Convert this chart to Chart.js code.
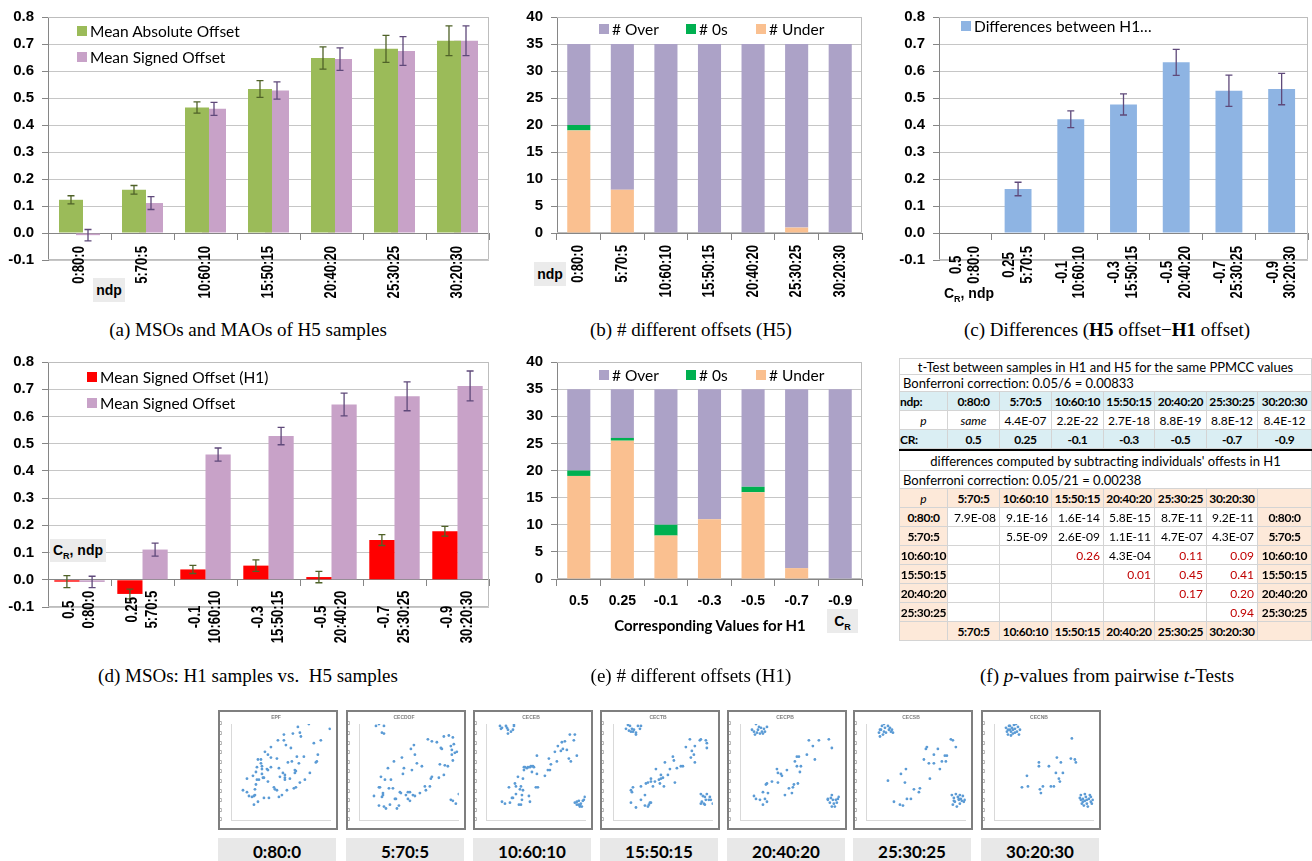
<!DOCTYPE html>
<html>
<head>
<meta charset="utf-8">
<script src="https://cdn.jsdelivr.net/npm/chart.js@4.4.1/dist/chart.umd.min.js"></script>
<style>
body { margin: 0; background: #fff; }
#page { position: relative; width: 1312px; height: 861px; overflow: hidden; font-family: Lato, sans-serif; }
canvas { position: absolute; }
.sq { position: absolute; width: 10px; height: 10px; }
.lg { position: absolute; font-family: Lato; font-size: 15.5px; line-height: 16px; white-space: nowrap; }
.tag { position: absolute; background: #ebebeb; font: bold 14px "Liberation Sans"; text-align: center; white-space: nowrap; }
.cap { position: absolute; font-family: "Liberation Serif"; font-size: 19px; white-space: nowrap; transform: translateX(-50%); }
.box { position: absolute; top: 710px; width: 120px; height: 120px; box-sizing: border-box; border: 2px solid #7f7f7f; background: #fff; }
.lab { position: absolute; top: 838px; height: 26px; width: 118px; background: #e8e8e8; font: bold 17px Lato; text-align: center; line-height: 28px; }
.tc { position: absolute; box-sizing: border-box; border-right: 1px solid #d4d4d4; border-bottom: 1px solid #d4d4d4; font-size: 12px; white-space: nowrap; padding: 0 3px; }
</style>
</head>
<body>
<div id="page">
  <canvas id="cA" width="495" height="310" style="left:0;top:0"></canvas>
  <canvas id="cB" width="370" height="310" style="left:500px;top:0"></canvas>
  <canvas id="cC" width="432" height="310" style="left:880px;top:0"></canvas>
  <canvas id="cD" width="495" height="315" style="left:0;top:345px"></canvas>
  <canvas id="cE" width="370" height="300" style="left:500px;top:345px"></canvas>
</div>
<script>
// categories
const ndpLabels = ['0:80:0', '5:70:5', '10:60:10', '15:50:15', '20:40:20', '25:30:25', '30:20:30'];
const crLabels = ['0.5', '0.25', '-0.1', '-0.3', '-0.5', '-0.7', '-0.9'];

// (a) H5 offsets
const maoH5 = [0.123, 0.160, 0.465, 0.533, 0.648, 0.682, 0.712];
const maoH5Err = [0.015, 0.016, 0.021, 0.031, 0.041, 0.050, 0.055];
const msoH5 = [-0.008, 0.111, 0.460, 0.528, 0.644, 0.674, 0.712];
const msoH5Err = [0.021, 0.024, 0.024, 0.032, 0.042, 0.053, 0.055];

// (b) counts H5
const underH5 = [19, 8, 0, 0, 0, 1, 0];
const zerosH5 = [1, 0, 0, 0, 0, 0, 0];
const overH5 = [15, 27, 35, 35, 35, 34, 35];

// (c) differences H5 - H1
const diffH5H1 = [0, 0.163, 0.421, 0.476, 0.632, 0.527, 0.533];
const diffErr = [0, 0.025, 0.031, 0.039, 0.048, 0.058, 0.058];

// (d) H1 signed offsets
const msoH1 = [-0.007, -0.052, 0.038, 0.052, 0.010, 0.146, 0.178];
const msoH1Err = [0.022, 0.018, 0.015, 0.021, 0.021, 0.020, 0.018];

// (e) counts H1
const underH1 = [19, 25.5, 8, 11, 16, 2, 0];
const zerosH1 = [1, 0.5, 2, 0, 1, 0, 0];
const overH1 = [15, 9, 25, 24, 18, 33, 35];

// (f) p-values
const pSame = ['same', '4.4E-07', '2.2E-22', '2.7E-18', '8.8E-19', '8.8E-12', '8.4E-12'];
const pairRows = ['0:80:0', '5:70:5', '10:60:10', '15:50:15', '20:40:20', '25:30:25'];
const pairCols = ['5:70:5', '10:60:10', '15:50:15', '20:40:20', '25:30:25', '30:20:30'];
const pairP = [
  ['7.9E-08', '9.1E-16', '1.6E-14', '5.8E-15', '8.7E-11', '9.2E-11'],
  ['', '5.5E-09', '2.6E-09', '1.1E-11', '4.7E-07', '4.3E-07'],
  ['', '', '0.26', '4.3E-04', '0.11', '0.09'],
  ['', '', '', '0.01', '0.45', '0.41'],
  ['', '', '', '', '0.17', '0.20'],
  ['', '', '', '', '', '0.94']
];

// sample scatter plots
const scatterTitles = ['EPF', 'CECDOF', 'CECEB', 'CECTB', 'CECPB', 'CECSB', 'CECNB'];
const ptsEPF = [[12,31],[16,43],[16,29],[18,25],[21,24],[23,25],[24,26],[23,16],[24,32],[25,37],[22,46],[25,50],[26,55],[27,63],[26,42],[28,42],[27,19],[30,63],[30,59],[31,56],[31,53],[31,48],[32,44],[33,44],[33,23],[34,71],[36,53],[37,40],[37,52],[37,68],[38,23],[40,76],[40,65],[40,55],[43,34],[44,32],[46,31],[46,64],[47,83],[48,54],[48,24],[49,45],[51,26],[52,49],[53,89],[53,83],[54,42],[54,47],[54,44],[55,78],[56,31],[57,60],[59,43],[60,75],[61,61],[62,90],[63,33],[64,52],[64,49],[65,51],[65,34],[66,66],[67,97],[69,91],[70,87],[69,39],[68,59],[74,42],[73,66],[78,100],[79,49],[83,80],[85,60],[86,61],[87,68],[90,83],[99,95]];
const ptsCECDOF = [[17,98],[20,100],[25,98],[23,91],[25,90],[15,25],[20,34],[21,34],[20,15],[22,45],[23,24],[24,28],[24,26],[25,14],[27,12],[26,42],[29,54],[30,33],[31,16],[32,42],[34,33],[35,61],[36,22],[37,22],[38,12],[40,15],[41,29],[42,28],[43,65],[44,48],[45,54],[47,26],[49,29],[49,22],[51,20],[51,29],[52,74],[53,52],[55,78],[56,68],[54,26],[56,25],[58,59],[61,28],[63,56],[66,35],[67,31],[69,84],[71,35],[72,43],[73,82],[73,45],[78,81],[80,44],[81,58],[82,75],[83,74],[85,47],[85,87],[86,57],[89,56],[90,88],[92,77],[93,73],[93,68],[94,62],[94,86],[95,79],[96,70],[92,21],[94,20],[97,17],[100,27],[98,71]];
const ptsCECEB = [[14,98],[15,95],[20,98],[21,96],[22,94],[22,90],[25,92],[27,94],[28,98],[28,100],[16,96],[16,19],[19,17],[23,34],[24,18],[26,23],[27,23],[29,38],[30,35],[30,27],[32,45],[33,16],[34,32],[35,16],[35,35],[36,26],[36,21],[37,31],[37,43],[38,52],[38,55],[39,55],[41,54],[42,55],[43,25],[44,19],[44,55],[45,56],[46,50],[47,56],[48,55],[50,34],[51,67],[51,48],[52,34],[59,46],[62,52],[63,64],[64,52],[65,58],[69,71],[71,61],[72,77],[75,72],[76,81],[77,74],[79,82],[81,73],[83,64],[85,61],[84,89],[88,83],[89,89],[91,67],[89,18],[91,16],[93,16],[94,14],[95,17],[96,14],[97,20],[98,21],[99,24],[93,20],[94,15],[91,19]];
const ptsCECTB = [[13,95],[15,99],[17,98],[18,92],[19,95],[20,92],[21,94],[23,91],[23,89],[25,98],[27,95],[28,98],[16,93],[18,31],[19,29],[20,34],[18,18],[23,13],[28,21],[28,35],[32,26],[32,15],[33,38],[35,39],[35,14],[36,16],[37,18],[38,18],[38,43],[38,40],[40,35],[42,40],[43,53],[46,42],[47,38],[48,47],[48,43],[50,44],[51,35],[52,60],[55,47],[57,53],[60,66],[61,62],[62,39],[64,54],[68,56],[70,56],[73,76],[77,84],[78,65],[79,72],[81,68],[82,60],[82,77],[87,83],[88,84],[93,83],[94,80],[94,75],[88,27],[88,17],[90,25],[91,17],[92,24],[93,21],[94,27],[96,21],[97,24],[98,21],[100,17],[89,19],[92,16]];
const ptsCECPB = [[12,94],[14,92],[16,100],[17,91],[18,94],[20,90],[21,96],[22,92],[23,90],[24,95],[25,92],[27,97],[15,89],[19,97],[14,25],[16,22],[20,21],[23,16],[23,29],[25,22],[26,37],[27,38],[27,19],[28,28],[32,40],[38,39],[37,53],[38,49],[41,48],[42,46],[45,26],[47,52],[49,33],[52,28],[53,34],[54,37],[55,61],[57,66],[57,56],[58,38],[59,66],[61,56],[60,50],[67,68],[69,83],[73,77],[75,63],[79,83],[89,84],[92,75],[88,22],[88,21],[90,18],[92,26],[92,14],[93,21],[94,17],[95,14],[97,18],[98,22],[99,24],[91,23],[96,21]];
const ptsCECSB = [[13,91],[14,87],[15,94],[16,98],[18,100],[18,92],[19,96],[20,91],[22,98],[23,94],[24,96],[25,92],[26,94],[27,91],[14,94],[17,89],[22,41],[28,19],[34,16],[35,48],[37,15],[39,39],[40,53],[41,22],[45,22],[48,32],[53,29],[54,33],[58,63],[60,74],[61,76],[63,59],[64,43],[68,68],[68,59],[72,74],[74,53],[76,61],[79,67],[80,61],[81,67],[85,84],[87,83],[90,76],[86,26],[87,16],[88,23],[89,19],[90,27],[91,14],[92,24],[93,21],[94,26],[94,17],[95,22],[96,20],[97,25],[98,19],[99,21],[88,20],[93,22]];
const ptsCECNB = [[12,96],[13,92],[14,89],[15,98],[16,94],[17,92],[17,88],[18,96],[19,94],[20,99],[21,91],[21,95],[22,100],[23,92],[24,97],[25,89],[26,94],[14,94],[16,98],[19,90],[28,34],[33,46],[34,35],[46,32],[47,28],[45,56],[45,60],[49,35],[55,56],[57,35],[60,35],[62,49],[63,65],[65,43],[66,40],[67,60],[69,49],[78,85],[77,64],[81,63],[82,60],[86,23],[87,21],[87,26],[88,17],[89,22],[90,15],[91,27],[91,20],[92,24],[93,17],[94,14],[95,22],[96,26],[97,19],[97,24],[98,17],[99,21],[89,19],[93,21]];
const scatterSets = [ptsEPF, ptsCECDOF, ptsCECEB, ptsCECTB, ptsCECPB, ptsCECSB, ptsCECNB];

const page = document.getElementById('page');
function add(cls, style, html) {
  const d = document.createElement('div');
  d.className = cls;
  Object.assign(d.style, style);
  d.innerHTML = html;
  page.appendChild(d);
  return d;
}

// error bars drawn from the bar elements and the y scale
const errorBars = {
  id: 'errorBars',
  afterDatasetsDraw(chart) {
    const ctx = chart.ctx, ys = chart.scales.y;
    chart.data.datasets.forEach((ds, i) => {
      if (!ds.errors) return;
      ctx.save();
      ctx.strokeStyle = ds.errorColor;
      ctx.lineWidth = 1.3;
      chart.getDatasetMeta(i).data.forEach((bar, j) => {
        const e = ds.errors[j];
        if (!e) return;
        const t = ys.getPixelForValue(ds.data[j] + e), b = ys.getPixelForValue(ds.data[j] - e);
        ctx.beginPath();
        ctx.moveTo(bar.x, t); ctx.lineTo(bar.x, b);
        ctx.moveTo(bar.x - 3.5, t); ctx.lineTo(bar.x + 3.5, t);
        ctx.moveTo(bar.x - 3.5, b); ctx.lineTo(bar.x + 3.5, b);
        ctx.stroke();
      });
      ctx.restore();
    });
  }
};

// rotated category labels hanging under the zero line, lines centred in their block
// (text squeezed along its length to look like a narrow bold face)
const rotLabels = {
  id: 'rotLabels',
  afterDraw(chart, args, o) {
    if (o.gap === undefined) return;
    const ctx = chart.ctx, xs = chart.scales.x;
    const y0 = chart.scales.y.getPixelForValue(0) + o.gap;
    ctx.save();
    ctx.font = o.font;
    ctx.fillStyle = '#000';
    ctx.textAlign = 'center';
    ctx.textBaseline = 'middle';
    chart.data.labels.forEach((lines, i) => {
      const x = xs.getPixelForValue(i);
      const w = Math.max(...lines.map(t => ctx.measureText(t).width)) * o.sx;
      lines.forEach((t, k) => {
        ctx.save();
        ctx.translate(x + (k - (lines.length - 1) / 2) * o.lh, y0 + w / 2);
        ctx.rotate(-Math.PI / 2);
        ctx.scale(o.sx, 1);
        ctx.fillText(t, 0, 0);
        ctx.restore();
      });
    });
    ctx.restore();
  }
};

// plot area border (top, right, bottom)
const frame = {
  id: 'frame',
  beforeDatasetsDraw(chart, args, o) {
    if (!o.color) return;
    const { left, top, right, bottom } = chart.chartArea;
    const ctx = chart.ctx;
    ctx.save();
    ctx.strokeStyle = o.color;
    ctx.lineWidth = 1;
    ctx.beginPath();
    ctx.moveTo(left, top + 0.5); ctx.lineTo(right - 0.5, top + 0.5);
    ctx.lineTo(right - 0.5, bottom - 0.5); ctx.lineTo(left, bottom - 0.5);
    ctx.stroke();
    ctx.restore();
  }
};

Chart.register(errorBars, rotLabels, frame);
Chart.defaults.font.family = '"Liberation Sans", Arial, sans-serif';
Chart.defaults.animation = false;

function barOpts(o) {
  return {
    responsive: false,
    layout: { padding: o.pad },
    plugins: {
      legend: { display: false },
      tooltip: { enabled: false },
      frame: { color: '#bdbdbd' },
      rotLabels: o.gap === undefined ? {} : { gap: o.gap, lh: o.lh, sx: 0.77, font: 'bold 17px "Liberation Sans"' }
    },
    scales: {
      x: {
        stacked: !!o.stacked,
        position: { y: 0 },
        offset: true,
        ticks: { display: false },
        grid: { offset: true, drawOnChartArea: false, tickLength: 6, color: '#868686' },
        border: { color: '#868686' }
      },
      y: {
        stacked: !!o.stacked,
        min: o.min, max: o.max,
        afterFit: s => { s.width = o.w; },
        ticks: { stepSize: o.step, padding: 8, color: '#000', font: { size: 15, weight: 'bold' }, callback: v => v.toFixed(o.dec) },
        grid: { color: '#c6c6c6', tickLength: 6, tickColor: '#868686' },
        border: { color: '#868686' }
      }
    }
  };
}

const cGreen = '#9bbb59', cPink = '#c8a2c8', cRed = '#ff0000', cBlue = '#8eb4e3';
const cOver = '#aca2c7', cZero = '#00b050', cUnder = '#fac090';

// (a)
new Chart(document.getElementById('cA'), {
  type: 'bar',
  data: {
    labels: ndpLabels.map(n => [n]),
    datasets: [
      { data: maoH5, errors: maoH5Err, errorColor: '#4f6228', backgroundColor: cGreen, categoryPercentage: 0.54, barPercentage: 1.41 },
      { data: msoH5, errors: msoH5Err, errorColor: '#5f497a', backgroundColor: cPink, categoryPercentage: 0.54, barPercentage: 1.41 }
    ]
  },
  options: barOpts({ w: 48, pad: { left: 0, top: 12, right: 6, bottom: 50 }, min: -0.1, max: 0.8, step: 0.1, dec: 1, gap: 13, lh: 18 })
});

// (b)
new Chart(document.getElementById('cB'), {
  type: 'bar',
  data: {
    labels: ndpLabels.map(n => [n]),
    datasets: [
      { data: underH5, backgroundColor: cUnder, categoryPercentage: 1, barPercentage: 0.53 },
      { data: zerosH5, backgroundColor: cZero, categoryPercentage: 1, barPercentage: 0.53 },
      { data: overH5, backgroundColor: cOver, categoryPercentage: 1, barPercentage: 0.53 }
    ]
  },
  options: barOpts({ w: 57, pad: { left: 0, top: 12, right: 8, bottom: 77 }, min: 0, max: 40, step: 5, dec: 0, gap: 12, lh: 18, stacked: true })
});

// (c)
new Chart(document.getElementById('cC'), {
  type: 'bar',
  data: {
    labels: ndpLabels.map((n, i) => [crLabels[i], n]),
    datasets: [
      { data: diffH5H1, errors: diffErr, errorColor: '#5f497a', backgroundColor: cBlue, categoryPercentage: 1, barPercentage: 0.51 }
    ]
  },
  options: barOpts({ w: 59, pad: { left: 0, top: 12, right: 4, bottom: 50 }, min: -0.1, max: 0.8, step: 0.1, dec: 1, gap: 13, lh: 17.5 })
});

// (d)
new Chart(document.getElementById('cD'), {
  type: 'bar',
  data: {
    labels: ndpLabels.map((n, i) => [crLabels[i], n]),
    datasets: [
      { data: msoH1, errors: msoH1Err, errorColor: '#4f6228', backgroundColor: cRed, categoryPercentage: 0.8, barPercentage: 1 },
      { data: msoH5, errors: msoH5Err, errorColor: '#5f497a', backgroundColor: cPink, categoryPercentage: 0.8, barPercentage: 1 }
    ]
  },
  options: barOpts({ w: 48, pad: { left: 0, top: 13, right: 6, bottom: 53 }, min: -0.1, max: 0.8, step: 0.1, dec: 1, gap: 11, lh: 20 })
});

// (e)
const optsE = barOpts({ w: 57, pad: { left: 0, top: 13, right: 8, bottom: 66 }, min: 0, max: 40, step: 5, dec: 0, stacked: true });
optsE.scales.x.ticks = { display: true, padding: 8, color: '#000', font: { size: 14, weight: 'bold' }, maxRotation: 0 };
new Chart(document.getElementById('cE'), {
  type: 'bar',
  data: {
    labels: crLabels,
    datasets: [
      { data: underH1, backgroundColor: cUnder, categoryPercentage: 1, barPercentage: 0.53 },
      { data: zerosH1, backgroundColor: cZero, categoryPercentage: 1, barPercentage: 0.53 },
      { data: overH1, backgroundColor: cOver, categoryPercentage: 1, barPercentage: 0.53 }
    ]
  },
  options: optsE
});

// legends
function legend(x, y, color, text) {
  add('sq', { left: x + 'px', top: y + 'px', background: color }, '');
  add('lg', { left: (x + 13) + 'px', top: (y - 3) + 'px' }, text);
}
legend(77, 26, cGreen, 'Mean Absolute Offset');
legend(77, 52, cPink, 'Mean Signed Offset');
[[599, 'Over', cOver], [686, '0s', cZero], [756, 'Under', cUnder]].forEach(([x, t, c]) => {
  legend(x, 24, c, '# ' + t);
  legend(x, 370, c, '# ' + t);
});
legend(961, 21, cBlue, 'Differences between H1…');
legend(87, 372, cRed, 'Mean Signed Offset (H1)');
legend(87, 398, cPink, 'Mean Signed Offset');

// axis tags
add('tag', { left: '93px', top: '278px', width: '32px', height: '24px', lineHeight: '24px' }, 'ndp');
add('tag', { left: '534px', top: '262px', width: '32px', height: '24px', lineHeight: '24px' }, 'ndp');
add('tag', { left: '942px', top: '283px', width: '54px', height: '20px', lineHeight: '20px', background: 'transparent' }, 'C<sub style="font-size:9px">R</sub>, ndp');
add('tag', { left: '50px', top: '539px', width: '56px', height: '23px', lineHeight: '23px' }, 'C<sub style="font-size:9px">R</sub>, ndp');
add('tag', { left: '827px', top: '609px', width: '31px', height: '24px', lineHeight: '24px' }, 'C<sub style="font-size:9px">R</sub>');
add('tag', { left: '609px', top: '616px', width: '202px', height: '18px', lineHeight: '18px', background: 'transparent', font: 'bold 15px Lato' }, 'Corresponding Values for H1');

// captions
add('cap', { left: '248px', top: '319px' }, '(a) MSOs and MAOs of H5 samples');
add('cap', { left: '691px', top: '319px' }, '(b) # different offsets (H5)');
add('cap', { left: '1107px', top: '319px' }, '(c) Differences (<b>H5</b> offset−<b>H1</b> offset)');
add('cap', { left: '248px', top: '665px' }, '(d) MSOs: H1 samples vs.&nbsp; H5 samples');
add('cap', { left: '691px', top: '665px' }, '(e) # different offsets (H1)');
add('cap', { left: '1107px', top: '665px' }, '(f) <i>p</i>-values from pairwise <i>t</i>-Tests');

// (f) table
const colX = [899, 948, 1000, 1052, 1104, 1155, 1207, 1258, 1312];
const blue = '#daeef3', peach = '#fde9d9';
function tcell(c0, c1, y, h, text, s) {
  s = s || {};
  return add('tc', {
    left: colX[c0] + 'px', top: y + 'px', width: (colX[c1] - colX[c0]) + 'px', height: h + 'px', lineHeight: h + 'px',
    background: s.bg || '#fff', fontWeight: s.bold ? 'bold' : 'normal', fontStyle: s.italic ? 'italic' : 'normal',
    textAlign: s.align || 'center', color: s.color || '#000', borderLeft: c0 === 0 ? '1px solid #d4d4d4' : 'none',
    borderTop: s.top ? '1px solid #d4d4d4' : 'none', padding: s.bold ? '0' : '0 3px',
    letterSpacing: s.bold ? '-0.3px' : 'normal', fontSize: s.size || '12px'
  }, text);
}
tcell(0, 8, 358, 17, 't-Test between samples in H1 and H5 for the same PPMCC values', { top: true, size: '13px' });
tcell(0, 8, 375, 17, 'Bonferroni correction: 0.05/6 = 0.00833', { align: 'left', size: '13px' });
tcell(0, 1, 392, 19, 'ndp:', { bg: blue, bold: true, align: 'left' });
tcell(0, 1, 411, 19, 'p', { italic: true });
tcell(0, 1, 430, 19, 'CR:', { bg: blue, bold: true, align: 'left' });
ndpLabels.forEach((n, i) => {
  tcell(i + 1, i + 2, 392, 19, n, { bg: blue, bold: true });
  tcell(i + 1, i + 2, 411, 19, pSame[i], { italic: i === 0 });
  tcell(i + 1, i + 2, 430, 19, crLabels[i], { bg: blue, bold: true });
});
add('tc', { left: '899px', top: '449px', width: '413px', height: '2px', background: '#000', border: 'none', padding: 0 }, '');
tcell(0, 8, 451, 20, "differences computed by subtracting individuals' offests in H1", { size: '13px' });
tcell(0, 8, 471, 18, 'Bonferroni correction: 0.05/21 = 0.00238', { align: 'left', size: '13px' });
tcell(0, 1, 489, 19, 'p', { bg: peach, italic: true });
pairCols.forEach((c, j) => {
  tcell(j + 1, j + 2, 489, 19, c, { bg: peach, bold: true });
  tcell(j + 1, j + 2, 622, 19, c, { bg: peach, bold: true });
});
tcell(7, 8, 489, 19, '', { bg: peach });
tcell(0, 1, 622, 19, '', { bg: peach });
tcell(7, 8, 622, 19, '', { bg: peach });
pairRows.forEach((r, i) => {
  const y = 508 + 19 * i;
  tcell(0, 1, y, 19, r, { bg: peach, bold: true });
  pairP[i].forEach((v, j) => {
    tcell(j + 1, j + 2, y, 19, v, { align: 'right', color: v && parseFloat(v) > 0.00238 ? '#c00000' : '#000' });
  });
  tcell(7, 8, y, 19, r, { bg: peach, bold: true });
});

// sample thumbnails
const boxX = [218, 346, 473, 600, 727, 853, 981];
scatterSets.forEach((pts, k) => {
  add('box', { left: boxX[k] + 'px' }, '');
  add('lab', { left: boxX[k] + 'px' }, ndpLabels[k]);
  const cv = document.createElement('canvas');
  cv.width = 116; cv.height = 116;
  cv.style.left = (boxX[k] + 2) + 'px';
  cv.style.top = '712px';
  page.appendChild(cv);
  new Chart(cv, {
    type: 'scatter',
    data: { datasets: [{ data: pts.map(p => ({ x: p[0], y: p[1] })), backgroundColor: '#5b9bd5', borderWidth: 0, pointRadius: 1.4 }] },
    options: {
      responsive: false,
      layout: { padding: { left: 0, right: 4, top: 0, bottom: 0 } },
      plugins: {
        legend: { display: false }, tooltip: { enabled: false },
        title: { display: true, text: scatterTitles[k], color: '#7f7f7f', font: { size: 5, weight: 'bold' }, padding: { top: 3, bottom: 3 } }
      },
      scales: {
        x: { min: 0, max: 100, afterFit: s => { s.height = 8; }, ticks: { stepSize: 10, autoSkip: false, maxRotation: 0, padding: 1, color: '#666', font: { size: 5 } }, grid: { display: false }, border: { color: '#d9d9d9' } },
        y: { min: 0, max: 100, afterFit: s => { s.width = 11; }, ticks: { stepSize: 10, padding: 1, color: '#666', font: { size: 5 } }, grid: { display: false }, border: { color: '#d9d9d9' } }
      }
    }
  });
});
</script>
</body>
</html>
